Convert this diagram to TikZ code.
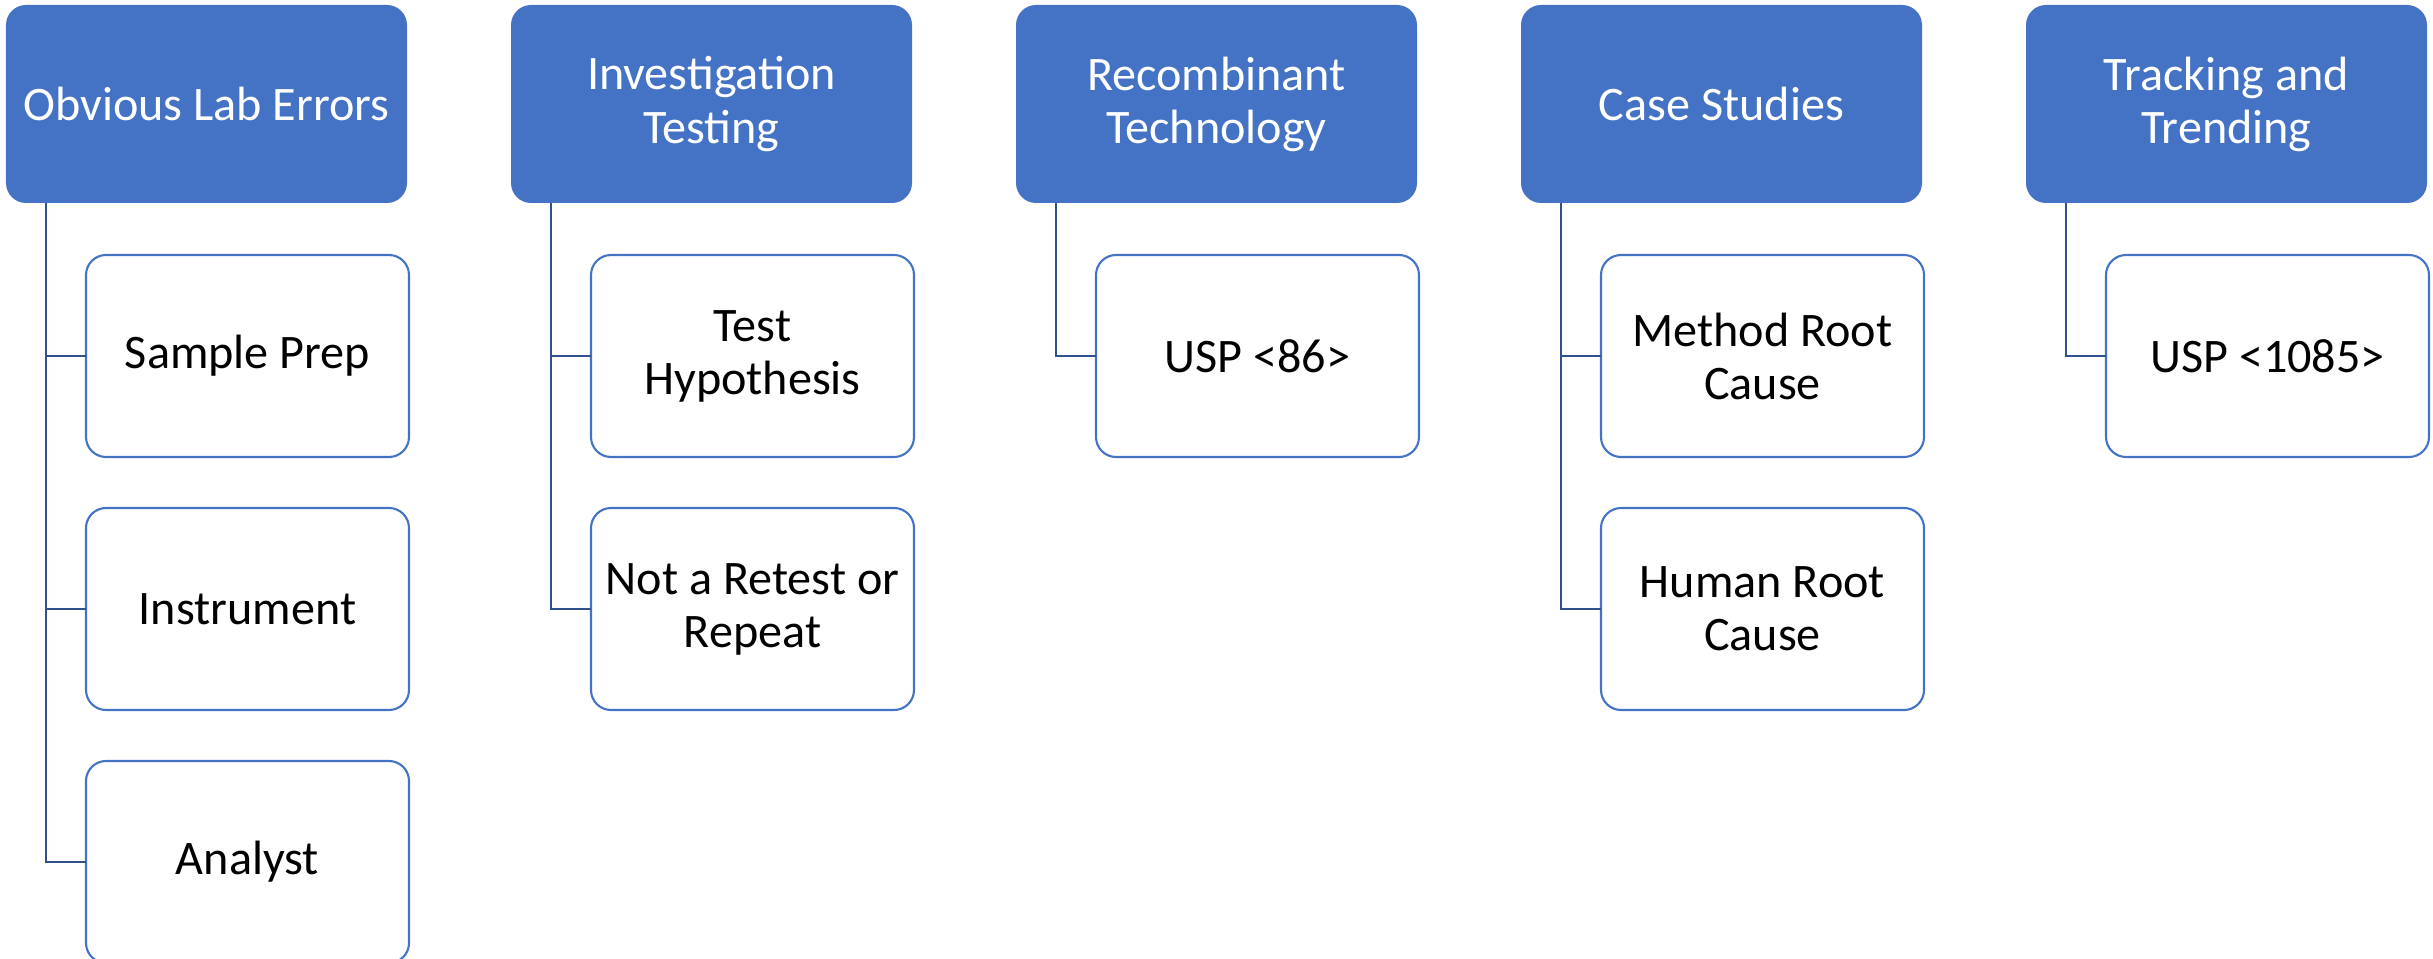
\documentclass[tikz,border=0pt]{standalone}
\usepackage{fontspec}
\setmainfont{Carlito}
\usetikzlibrary{positioning}
\definecolor{hdblue}{HTML}{4472C4}
\definecolor{lnblue}{HTML}{2F528F}

\begin{document}
\begin{tikzpicture}[node distance=1.04cm,
    every node/.style = {shape=rectangle, rounded corners=0.2cm,
      align=center, inner sep=0pt, outer sep=0pt,
      font=\fontsize{13.7}{15.1}\selectfont},
    head/.style = {fill=hdblue, text=white,
      minimum width=4.01cm, minimum height=1.98cm},
    item/.style = {draw=hdblue, line width=0.6pt, fill=white,
      minimum width=3.23cm, minimum height=2.02cm},
    link/.style = {draw=lnblue, line width=0.8pt}]
  \useasboundingbox (0,0) rectangle (24.33,-9.59);
  % top row
  \node[head, anchor=north west] (lab) at (0.06,-0.05) {Obvious Lab Errors};
  \node[head, right=of lab] (inv) {Investigation\\Testing};
  \node[head, right=of inv] (recomb) {Recombinant\\Technology};
  \node[head, right=of recomb] (cases) {Case Studies};
  \node[head, right=of cases] (track) {Tracking and\\Trending};
  % sub items
  \node[item, anchor=north west] (prep) at ([xshift=0.8cm,yshift=-0.52cm]lab.south west) {Sample Prep};
  \node[item, below=0.51cm of prep] (instr) {Instrument};
  \node[item, below=0.51cm of instr] (analyst) {Analyst};
  \node[item, anchor=north west] (hypo) at ([xshift=0.8cm,yshift=-0.52cm]inv.south west) {Test\\Hypothesis};
  \node[item, below=0.51cm of hypo] (retest) {Not a Retest or\\Repeat};
  \node[item, anchor=north west] (usp86) at ([xshift=0.8cm,yshift=-0.52cm]recomb.south west) {USP <86>};
  \node[item, anchor=north west] (method) at ([xshift=0.8cm,yshift=-0.52cm]cases.south west) {Method Root\\Cause};
  \node[item, below=0.51cm of method] (human) {Human Root\\Cause};
  \node[item, anchor=north west] (usp1085) at ([xshift=0.8cm,yshift=-0.52cm]track.south west) {USP <1085>};
  % connectors
  \draw[link] ([xshift=0.4cm]lab.south west) |- (prep.west);
  \draw[link] ([xshift=0.4cm]lab.south west) |- (instr.west);
  \draw[link] ([xshift=0.4cm]lab.south west) |- (analyst.west);
  \draw[link] ([xshift=0.4cm]inv.south west) |- (hypo.west);
  \draw[link] ([xshift=0.4cm]inv.south west) |- (retest.west);
  \draw[link] ([xshift=0.4cm]recomb.south west) |- (usp86.west);
  \draw[link] ([xshift=0.4cm]cases.south west) |- (method.west);
  \draw[link] ([xshift=0.4cm]cases.south west) |- (human.west);
  \draw[link] ([xshift=0.4cm]track.south west) |- (usp1085.west);
\end{tikzpicture}
\end{document}
